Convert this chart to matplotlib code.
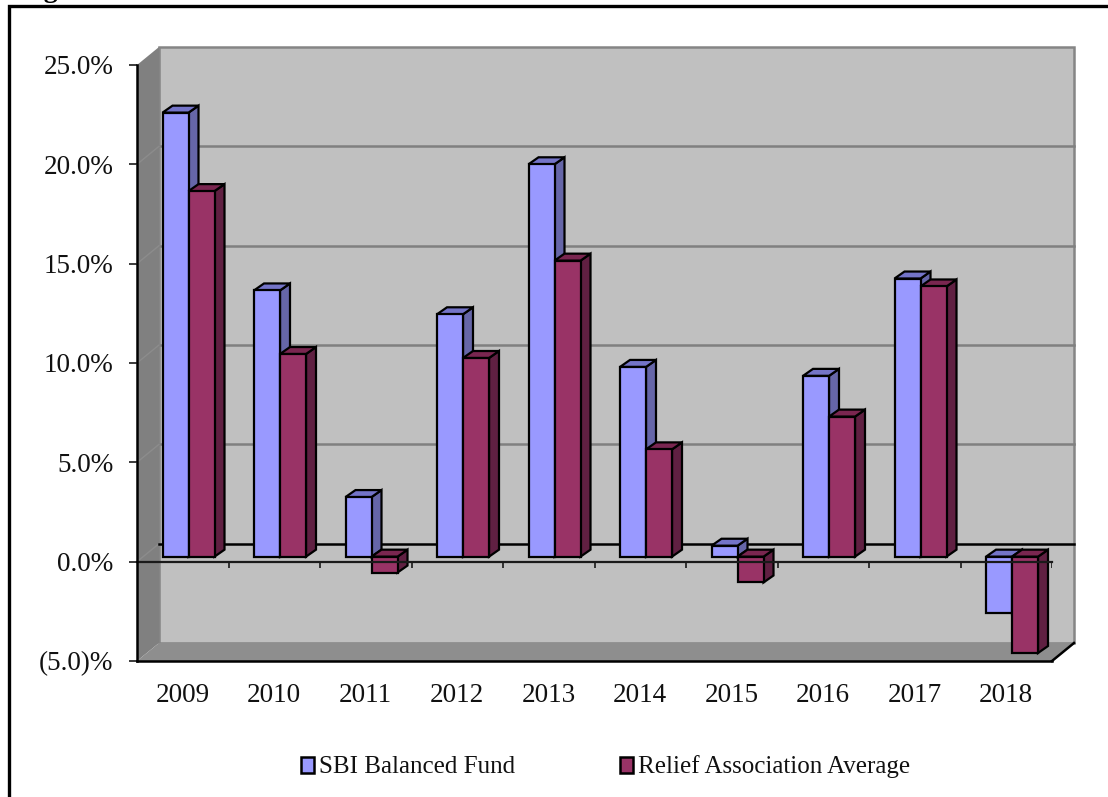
import matplotlib
matplotlib.use("Agg")
import matplotlib.pyplot as plt
from matplotlib.patches import Patch, Rectangle

years = ["2009", "2010", "2011", "2012", "2013", "2014", "2015", "2016", "2017", "2018"]
sbi_balanced = [22.35, 13.4, 3.0, 12.2, 19.75, 9.55, 0.55, 9.1, 14.0, -2.85]
relief_avg = [18.4, 10.2, -0.8, 10.0, 14.9, 5.4, -1.3, 7.05, 13.6, -4.85]
y_ticks = [-5, 0, 5, 10, 15, 20, 25]
y_labels = ["(5.0)%", "0.0%", "5.0%", "10.0%", "15.0%", "20.0%", "25.0%"]

W, H = 1108, 797
plt.rcParams["font.family"] = ["Liberation Serif", "DejaVu Serif"]

fig = plt.figure(figsize=(W / 100, H / 100), dpi=100, facecolor="white")
ax = fig.add_axes([137 / W, 1 - 661 / H, (1052 - 137) / W, (661 - 65) / H])
ax.set_xlim(0, 10)
ax.set_ylim(-5, 25)
ax.patch.set_visible(False)

# pixel sizes turned into data units
px_x = 10 / (1052 - 137)
px_y = 30 / (661 - 65)
wall_dx, wall_dy = 22 * px_x, 18 * px_y
bar_dx, bar_dy = 10 * px_x, 7 * px_y
bar_w = 26 * px_x
bar_gap = 25.5 * px_x
bar_base = 5 * px_y

# back wall, side wall and floor
ax.fill([wall_dx, 10 + wall_dx, 10 + wall_dx, wall_dx],
        [-5 + wall_dy, -5 + wall_dy, 25 + wall_dy, 25 + wall_dy],
        facecolor="#c0c0c0", edgecolor="#858585", lw=1.8, clip_on=False, zorder=1)
ax.fill([0, wall_dx, wall_dx, 0], [-5, -5 + wall_dy, 25 + wall_dy, 25],
        facecolor="#808080", edgecolor="none", clip_on=False, zorder=2)
ax.fill([0, 10, 10 + wall_dx, wall_dx], [-5, -5, -5 + wall_dy, -5 + wall_dy],
        facecolor="#8e8e8e", edgecolor="none", clip_on=False, zorder=2)

# gridlines on the back wall, carried on across the side wall
for t in y_ticks[2:-1]:
    ax.plot([wall_dx, 10 + wall_dx], [t + wall_dy] * 2, color="#808080", lw=1.8,
            clip_on=False, zorder=1.5)
    ax.plot([0, wall_dx], [t, t + wall_dy], color="#8c8c8c", lw=1, clip_on=False, zorder=2.5)
ax.plot([wall_dx, 10 + wall_dx], [wall_dy, wall_dy], color="black", lw=1.8,
        clip_on=False, zorder=3)
ax.plot([0, wall_dx], [0, wall_dy], color="#8c8c8c", lw=1, clip_on=False, zorder=2.5)
ax.plot([10, 10 + wall_dx], [-5, -5 + wall_dy], color="black", lw=1.8, clip_on=False, zorder=3)


def draw_bars(left, values, front, side, top, z):
    rects = ax.bar(left, values, width=bar_w, bottom=bar_base, align="edge", color=front,
                   edgecolor="black", lw=1.6, zorder=z + 0.2, clip_on=False)
    for r in rects:
        x0, x1 = r.get_x(), r.get_x() + r.get_width()
        y0, y1 = sorted([r.get_y(), r.get_y() + r.get_height()])
        ax.fill([x1, x1 + bar_dx, x1 + bar_dx, x1],
                [y0, y0 + bar_dy, y1 + bar_dy, y1],
                facecolor=side, edgecolor="black", lw=1.6, zorder=z, clip_on=False)
        ax.fill([x0, x1, x1 + bar_dx, x0 + bar_dx],
                [y1, y1, y1 + bar_dy, y1 + bar_dy],
                facecolor=top, edgecolor="black", lw=1.6, zorder=z + 0.1, clip_on=False)


xs = list(range(len(years)))
draw_bars([x + bar_gap for x in xs], sbi_balanced, "#9999ff", "#6666a8", "#7474c8", 4)
draw_bars([x + bar_gap + bar_w for x in xs], relief_avg, "#993366", "#602042", "#7a2650", 5)

# front zero line with its category ticks
ax.plot([0, 10], [0, 0], color="#1a1a1a", lw=1.6, zorder=6, clip_on=False)
ax.vlines(range(1, 11), -6 * px_y, 0, color="#1a1a1a", lw=1.2, zorder=6)

for s in ["top", "right"]:
    ax.spines[s].set_visible(False)
for s in ["left", "bottom"]:
    ax.spines[s].set_linewidth(1.8)
    ax.spines[s].set_zorder(7)

ax.set_yticks(y_ticks)
ax.set_yticklabels(y_labels, fontsize=19.5)
ax.tick_params(axis="y", length=6, width=1.2, pad=11, color="#1a1a1a", labelcolor="#111111")
ax.set_xticks([x + 0.5 for x in xs])
ax.set_xticklabels(years, fontsize=19.5)
ax.tick_params(axis="x", length=0, pad=16, labelcolor="#111111")

handles = [Patch(facecolor="#9999ff", edgecolor="black", lw=1.8),
           Patch(facecolor="#993366", edgecolor="black", lw=1.8)]
fig.legend(handles, ["SBI Balanced Fund", "Relief Association Average"], ncol=2,
           loc="center", bbox_to_anchor=(605.5 / W, 1 - 767 / H), frameon=False, fontsize=18,
           handlelength=0.5, handleheight=0.6, handletextpad=0.2, columnspacing=4.2,
           labelcolor="#111111", borderpad=0, borderaxespad=0)

# outer frame, running off the top right of the page, and the cut off heading above it
fig.add_artist(Rectangle((9 / W, -0.1), 1.2, 1.1 - 6 / H, transform=fig.transFigure,
                         fill=False, edgecolor="black", lw=2.4))
fig.text(20 / W, 1 + 3 / H, "Fig", fontsize=20, fontweight="bold", va="baseline", ha="left")

fig.savefig("out.png", dpi=100)
